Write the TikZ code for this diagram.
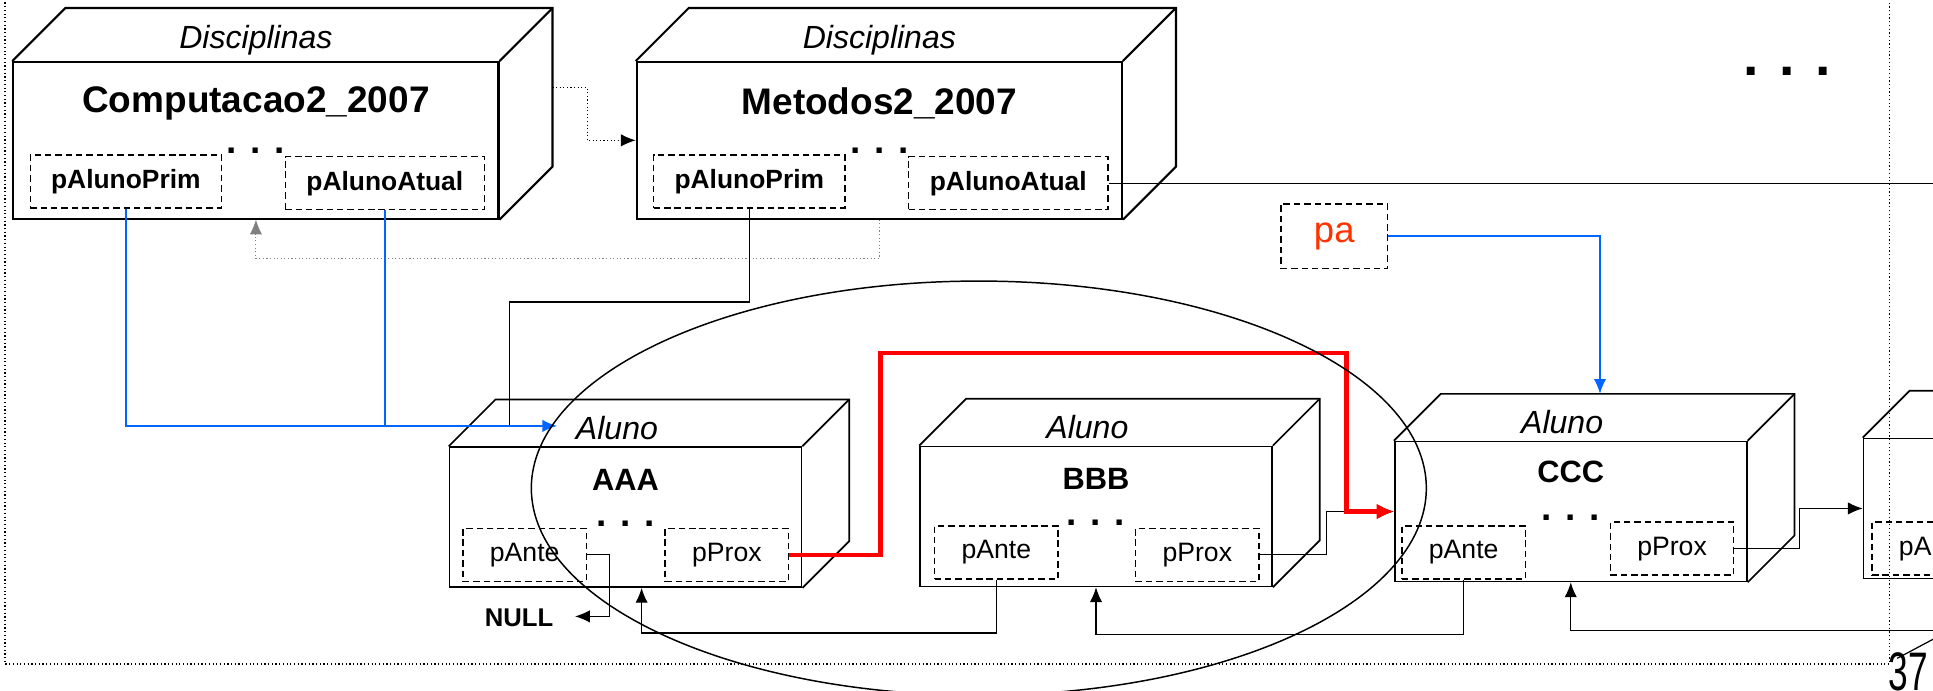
\documentclass[tikz,border=0pt]{standalone}
\usepackage{fontspec}
\setmainfont{Liberation Sans}
\usetikzlibrary{arrows.meta}
\usetikzlibrary{calc}
\definecolor{azul}{RGB}{0,102,255}
\definecolor{laranja}{RGB}{255,51,0}

% fundo (profundidade) de uma caixa 3D: no, deslocamento, espessura
\newcommand{\fundo}[3]{%
  \draw[line width=#3] (#1.north west) -- ++(#2,-#2) -| ($(#1.south east)+(#2,-#2)$) -- (#1.south east);
  \draw[line width=#3] (#1.north east) -- ++(#2,-#2);
}

\begin{document}
\begin{tikzpicture}[x=0.5pt, y=-0.5pt, >={Latex[length=6pt,width=5pt]},
  disc/.style={draw, line width=0.85pt, anchor=north west, inner sep=0pt, minimum width=196.75pt, minimum height=63.5pt},
  aluno/.style={draw, line width=0.7pt, anchor=north west, inner sep=0pt, minimum width=142.75pt, minimum height=56.75pt},
  campo/.style={draw, dash pattern=on 2.6pt off 1.6pt, line width=0.6pt, anchor=north west, inner sep=0pt, minimum height=21.5pt},
  prim/.style={campo, minimum width=77.5pt, font=\fontsize{10.7}{13}\selectfont\bfseries},
  atual/.style={campo, minimum width=80.75pt, font=\fontsize{10.7}{13}\selectfont\bfseries},
  ptr/.style={campo, minimum width=50pt, font=\fontsize{10.8}{13}\selectfont},
  tipo/.style={font=\fontsize{13}{15}\selectfont\itshape},
  nome/.style={font=\fontsize{15}{18}\selectfont\bfseries},
  chave/.style={font=\fontsize{12.5}{15}\selectfont\bfseries},
  pontos/.style={anchor=base, inner sep=0pt, font=\fontsize{15}{18}\selectfont\bfseries},
  lig/.style={line width=0.5pt},
  liga/.style={draw=azul, line width=0.8pt},
  ligp/.style={line width=0.45pt, densely dotted}]
  \useasboundingbox (0,0) rectangle (1568,560);
  \clip (0,0) rectangle (1568,560);

  % moldura
  \draw[line width=0.5pt, densely dotted] (4,-10) -- (4,538.6) -- (1533,538.6) -- (1533,-10);
  \node[font=\fontsize{22}{26}\selectfont\bfseries, anchor=base] (tit-y) at (1021,-11) {y};
  \node[font=\fontsize{22}{26}\selectfont\bfseries, anchor=base] (tit-p) at (1146,-10) {p};
  \node[anchor=base, inner sep=0pt, font=\fontsize{22.5}{26}\selectfont\bfseries] (mais) at (1450,61) {. . .};

  % disciplinas
  \node[disc] (comp) at (10,49.5) {};
  \node[tipo] (comp-tipo) at ($(comp.north)+(0,-17)$) {Disciplinas};
  \node[nome] (comp-nome) at ($(comp.north)+(0,34.5)$) {Computacao2\_2007};
  \node[prim] (prim1) at ($(comp.north west)+(14,75.5)$) {pAlunoPrim};
  \node[atual] (atual1) at ($(comp.north west)+(220.8,77)$) {pAlunoAtual};
  \node[pontos] (comp-pts) at ($(comp.north)+(0,75)$) {. . .};
  \fundo{comp}{43}{0.85pt}

  \node[disc] (metodos) at (515.7,49.5) {};
  \node[tipo] (metodos-tipo) at ($(metodos.north)+(0,-17)$) {Disciplinas};
  \node[nome] (metodos-nome) at ($(metodos.north)+(0,34.5)$) {Metodos2\_2007};
  \node[prim] (prim2) at ($(metodos.north west)+(14,75.5)$) {pAlunoPrim};
  \node[atual] (atual2) at ($(metodos.north west)+(220.8,77)$) {pAlunoAtual};
  \node[pontos] (metodos-pts) at ($(metodos.north)+(0,75)$) {. . .};
  \fundo{metodos}{43}{0.85pt}

  % alunos
  \node[aluno] (aaa) at (364,362) {};
  \node[tipo] (aaa-tipo) at ($(aaa.north)+(-7,-15)$) {Aluno};
  \node[chave] (aaa-nome) at ($(aaa.north)+(0,27)$) {AAA};
  \node[ptr] (anteA) at ($(aaa.north west)+(11,66)$) {pAnte};
  \node[ptr] (proxA) at ($(aaa.north west)+(175,66)$) {pProx};
  \node[pontos] (aaa-pts) at ($(aaa.north)+(0,65)$) {. . .};
  \fundo{aaa}{38}{0.7pt}

  \node[aluno] (bbb) at (745.6,361.5) {};
  \node[tipo] (bbb-tipo) at ($(bbb.north)+(-7,-15)$) {Aluno};
  \node[chave] (bbb-nome) at ($(bbb.north)+(0,27)$) {BBB};
  \node[ptr] (anteB) at ($(bbb.north west)+(12,64.5)$) {pAnte};
  \node[ptr] (proxB) at ($(bbb.north west)+(175,66.5)$) {pProx};
  \node[pontos] (bbb-pts) at ($(bbb.north)+(0,65)$) {. . .};
  \fundo{bbb}{38}{0.7pt}

  \node[aluno] (ccc) at (1130.7,357.5) {};
  \node[tipo] (ccc-tipo) at ($(ccc.north)+(-7,-15)$) {Aluno};
  \node[chave] (ccc-nome) at ($(ccc.north)+(0,25)$) {CCC};
  \node[ptr] (anteC) at ($(ccc.north west)+(6,68.5)$) {pAnte};
  \node[ptr] (proxC) at ($(ccc.north west)+(175,65.5)$) {pProx};
  \node[pontos] (ccc-pts) at ($(ccc.north)+(0,65)$) {. . .};
  \fundo{ccc}{38}{0.7pt}

  \node[aluno] (quarto) at (1511,355) {};
  \node[ptr] (anteD) at ($(quarto.north west)+(7,68)$) {pAnte};
  \fundo{quarto}{38}{0.7pt}

  \coordinate (aaa-in) at ($(aaa.north)+(-55.4,-16.5)$);
  \coordinate (ccc-in) at ($(ccc.north)+(23.7,-38)$);

  % ligacoes entre disciplinas
  \draw[ligp,->] ($(comp.north east)+(43,21.5)$) -- ++(28,0) |- (metodos.west);
  \draw[ligp, draw=gray, line width=0.4pt,->] (metodos.south) -- ++(0,31.5) -| (comp.south);
  \draw[lig] (atual2.east) -- ++(700,0);

  % ponteiros
  \draw[lig] (prim2.south) |- ($(aaa-in)+(-38.6,-100.5)$) -- ($(aaa-in)+(-38.6,0)$);
  \draw[liga,->] (prim1.south) |- (aaa-in);
  \draw[liga] (atual1.south) -- (atual1.south |- aaa-in);

  \node[draw, dash pattern=on 2.6pt off 1.6pt, line width=0.6pt, minimum width=43.3pt, minimum height=26.25pt, inner sep=0pt, text=laranja, font=\fontsize{14.8}{17}\selectfont] (pa) at (1082.3,191.75) {pa};
  \draw[liga,->] (pa.east) -| (ccc-in);

  \node[inner sep=0pt, font=\fontsize{10.4}{13}\selectfont\bfseries] (null) at (421,501) {NULL};
  \draw[lig,->] (anteA.east) -- ++(18,0) |- ($(null.east)+(17.3,-1)$);

  \draw[lig,->] (proxB.east) -- ++(54.4,0) |- (ccc.west);
  \draw[draw=red, line width=1.75pt, -{Latex[length=7pt,width=6.5pt]}] (proxA.east) -- ++(74,0) -- ++(0,-163.5) -- ++(378,0) |- (ccc.west);
  \draw[lig,->] (proxC.east) -- ++(52.8,0) |- (quarto.west);

  \draw[lig,->] (anteB.south) -- ++(0,43.2) -| ($(aaa.south)+(13,0)$);
  \draw[lig,->] (anteC.south) -- ++(0,44.7) -| (bbb.south);
  \draw[lig,->] (anteD.south) -- ++(0,44) -| (ccc.south);

  % lista percorrida
  \draw[line width=0.6pt] (794,396) ellipse [x radius=181.5pt, y radius=84pt];

  \node[anchor=north west, inner sep=0pt, font=\fontsize{22}{26}\selectfont] (pagina) at (1531.5,528.6) {\scalebox{0.65}[1]{37}};
  \draw[lig] (1539,534) -- (1570,517.5);
\end{tikzpicture}
\end{document}
